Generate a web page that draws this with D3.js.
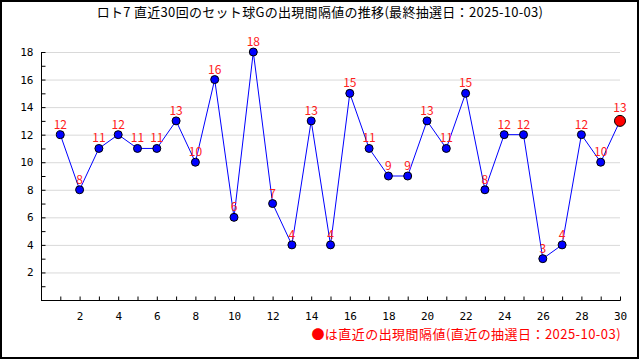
<!DOCTYPE html>
<html><head><meta charset="utf-8">
<script src="https://cdn.jsdelivr.net/npm/d3@7"></script>
<style>body{margin:0;background:#fff}svg{display:block}</style>
</head><body>
<svg id="c" width="640" height="360"></svg>
<script>
const title = "ロト7 直近30回のセット球Gの出現間隔値の推移(最終抽選日：2025-10-03)";
const legendText = "●は直近の出現間隔値(直近の抽選日：2025-10-03)";
const draws = d3.range(1, 31);
const intervals = [12,8,11,12,11,11,13,10,16,6,18,7,4,13,4,15,11,9,9,13,11,15,8,12,12,3,4,12,10,13];
const xTickLabels = [2,4,6,8,10,12,14,16,18,20,22,24,26,28,30];
const yTickLabels = [2,4,6,8,10,12,14,16,18];

const svg = d3.select("#c");
const font = "'Noto Sans CJK JP', 'DejaVu Sans', sans-serif";
const numFont = "'DejaVu Sans Mono', monospace";

svg.append("rect").attr("x",1).attr("y",1).attr("width",637).attr("height",357)
  .attr("fill","#fff").attr("stroke","#000").attr("stroke-width",2);

svg.append("text").attr("x",320).attr("y",17).attr("text-anchor","middle")
  .attr("font-family",font).attr("font-size",13).attr("letter-spacing",0.3)
  .attr("fill","#000").text(title);

const x = d3.scaleLinear().domain([0,30]).range([41,620]);
const y = d3.scaleLinear().domain([0,18]).range([300,52]);

// gridlines
svg.append("g").selectAll("line").data(yTickLabels).join("line")
  .attr("x1",x(0)).attr("x2",x(30)).attr("y1",d=>y(d)+0.5).attr("y2",d=>y(d)+0.5)
  .attr("stroke","#d9d9d9").attr("stroke-width",1);

// y axis
const yAxis = d3.axisRight(y).tickValues(d3.range(1,19)).tickSize(4)
  .tickFormat(d => yTickLabels.includes(d) ? d : "");
const gy = svg.append("g").attr("transform",`translate(${x(0)+0.5},0)`).call(yAxis);
gy.select(".domain").attr("d",`M0,${y(18)}V${y(0)+0.5}`).attr("stroke","#000");
gy.selectAll(".tick line").attr("stroke","#000");
gy.selectAll(".tick text").attr("x",-8).attr("text-anchor","end")
  .attr("font-family",numFont).attr("font-size",11).attr("fill","#000");

// x axis
const xAxis = d3.axisTop(x).tickValues(d3.range(1,31)).tickSize(4)
  .tickFormat(d => xTickLabels.includes(d) ? d : "");
const gx = svg.append("g").attr("transform",`translate(0,${y(0)+0.5})`).call(xAxis);
gx.select(".domain").attr("d",`M${x(0)},0H${x(30)+0.5}`).attr("stroke","#000");
gx.selectAll(".tick line").attr("stroke","#000");
gx.selectAll(".tick text").attr("y",16).attr("dy","0.35em")
  .attr("font-family",numFont).attr("font-size",11).attr("fill","#000");

// line
const pts = draws.map((d,i)=>({d, v:intervals[i]}));
svg.append("path").datum(pts)
  .attr("d", d3.line().x(p=>x(p.d)).y(p=>y(p.v)))
  .attr("fill","none").attr("stroke","#0000ff").attr("stroke-width",1);

// markers
svg.append("g").selectAll("circle").data(pts).join("circle")
  .attr("cx",p=>x(p.d)).attr("cy",p=>y(p.v))
  .attr("r",(p,i)=> i===pts.length-1 ? 5.5 : 4)
  .attr("fill",(p,i)=> i===pts.length-1 ? "#ff0000" : "#0000ff")
  .attr("stroke","#000").attr("stroke-width",1);

// value labels
svg.append("g").selectAll("text").data(pts).join("text")
  .attr("x",p=>x(p.d)).attr("y",(p,i)=>y(p.v) - (i===pts.length-1 ? 9 : 6))
  .attr("text-anchor","middle").attr("font-family",font).attr("font-size",12)
  .attr("fill","#ff2020").text(p=>p.v);

// legend
svg.append("text").attr("x",621).attr("y",339).attr("text-anchor","end")
  .attr("font-family",font).attr("font-size",13).attr("letter-spacing",0.45)
  .attr("fill","#ff0000").text(legendText);
</script>
</body></html>
